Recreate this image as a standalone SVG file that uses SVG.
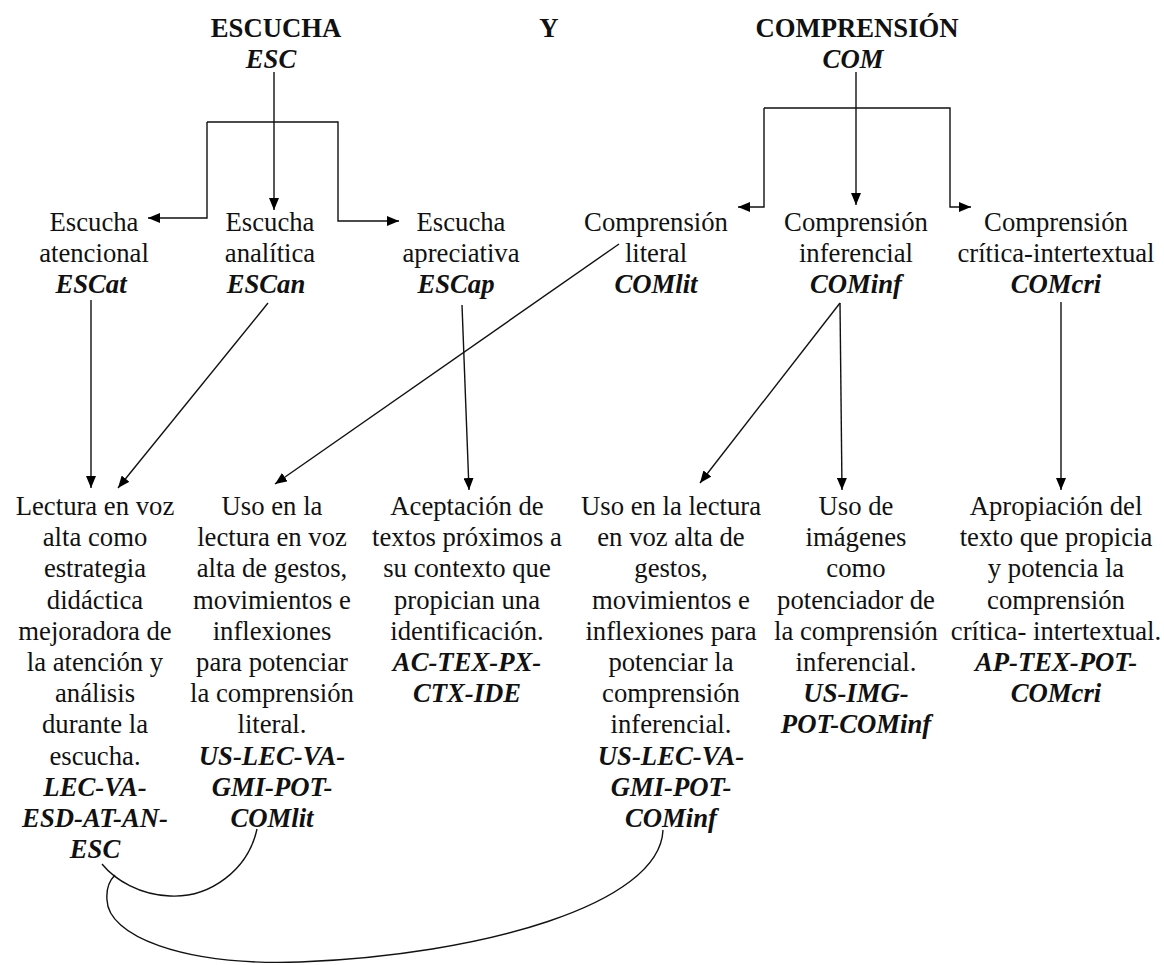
<svg xmlns="http://www.w3.org/2000/svg" width="1164" height="965" viewBox="0 0 1164 965">
<defs>
<marker id="arr" markerWidth="12" markerHeight="10" refX="12" refY="5" orient="auto" markerUnits="userSpaceOnUse">
<path d="M0,0 L12,5 L0,10 z" fill="#000"/>
</marker>
<style>
text{font-family:"Liberation Serif","Times New Roman",serif;font-size:26.7px;fill:#111;text-anchor:middle}
.b{font-weight:bold}
.bi{font-weight:bold;font-style:italic}
.c{fill:none;stroke:#111;stroke-width:1.4}
.a{marker-end:url(#arr)}
</style>
</defs>
<rect width="1164" height="965" fill="#fff"/>
<g id="connectors">
<path class="c a" d="M274 72 V210"/>
<path class="c a" d="M207 122 V218 H148"/>
<path class="c a" d="M207 122 H338 V221 H399"/>
<path class="c a" d="M856 72 V205"/>
<path class="c a" d="M764 108 V207 H738"/>
<path class="c a" d="M764 108 H950 V207 H971"/>
<path class="c a" d="M91 300 V488"/>
<path class="c a" d="M268 303 L118 488"/>
<path class="c a" d="M619 244 L275 484"/>
<path class="c a" d="M462 305 L469 490"/>
<path class="c a" d="M840 303 L700 483"/>
<path class="c a" d="M840 303 L842 490"/>
<path class="c a" d="M1061 302 V490"/>
<path class="c" d="M257 829 C248 870 210 898 170 896 C140 895 115 880 102 864"/>
<path class="c" d="M663 830 C660 905 480 955 300 962 C180 966 108 935 107 900 C106 888 110 880 115 875"/>
</g>
<g id="ESC">
<text class="b" x="276" y="37">ESCUCHA</text>
<text class="bi" x="271" y="68">ESC</text>
</g>
<g id="Y"><text class="b" x="549" y="37">Y</text></g>
<g id="COM">
<text class="b" x="857" y="37">COMPRENSIÓN</text>
<text class="bi" x="853" y="68">COM</text>
</g>
<g id="ESCat">
<text x="94" y="231">Escucha</text>
<text x="94" y="262">atencional</text>
<text class="bi" x="91" y="293">ESCat</text>
</g>
<g id="ESCan">
<text x="270" y="231">Escucha</text>
<text x="270" y="262">analítica</text>
<text class="bi" x="266" y="293">ESCan</text>
</g>
<g id="ESCap">
<text x="461" y="231">Escucha</text>
<text x="461" y="262">apreciativa</text>
<text class="bi" x="456" y="293">ESCap</text>
</g>
<g id="COMlit">
<text x="656" y="231">Comprensión</text>
<text x="656" y="262">literal</text>
<text class="bi" x="656" y="293">COMlit</text>
</g>
<g id="COMinf">
<text x="856" y="231">Comprensión</text>
<text x="856" y="262">inferencial</text>
<text class="bi" x="856" y="293">COMinf</text>
</g>
<g id="COMcri">
<text x="1056" y="231">Comprensión</text>
<text x="1056" y="262">crítica-intertextual</text>
<text class="bi" x="1056" y="293">COMcri</text>
</g>
<g id="LEC-VA-ESD-AT-AN-ESC">
<text x="95" y="515">Lectura en voz</text>
<text x="95" y="546.2">alta como</text>
<text x="95" y="577.4">estrategia</text>
<text x="95" y="608.6">didáctica</text>
<text x="95" y="639.8">mejoradora de</text>
<text x="95" y="671">la atención y</text>
<text x="95" y="702.2">análisis</text>
<text x="95" y="733.4">durante la</text>
<text x="95" y="764.6">escucha.</text>
<text class="bi" x="95" y="795.8">LEC-VA-</text>
<text class="bi" x="95" y="827">ESD-AT-AN-</text>
<text class="bi" x="95" y="858.2">ESC</text>
</g>
<g id="US-LEC-VA-GMI-POT-COMlit">
<text x="272" y="515">Uso en la</text>
<text x="272" y="546.2">lectura en voz</text>
<text x="272" y="577.4">alta de gestos,</text>
<text x="272" y="608.6">movimientos e</text>
<text x="272" y="639.8">inflexiones</text>
<text x="272" y="671">para potenciar</text>
<text x="272" y="702.2">la comprensión</text>
<text x="272" y="733.4">literal.</text>
<text class="bi" x="272" y="764.6">US-LEC-VA-</text>
<text class="bi" x="272" y="795.8">GMI-POT-</text>
<text class="bi" x="272" y="827">COMlit</text>
</g>
<g id="AC-TEX-PX-CTX-IDE">
<text x="467" y="515">Aceptación de</text>
<text x="467" y="546.2">textos próximos a</text>
<text x="467" y="577.4">su contexto que</text>
<text x="467" y="608.6">propician una</text>
<text x="467" y="639.8">identificación.</text>
<text class="bi" x="467" y="671">AC-TEX-PX-</text>
<text class="bi" x="467" y="702.2">CTX-IDE</text>
</g>
<g id="US-LEC-VA-GMI-POT-COMinf">
<text x="671" y="515">Uso en la lectura</text>
<text x="671" y="546.2">en voz alta de</text>
<text x="671" y="577.4">gestos,</text>
<text x="671" y="608.6">movimientos e</text>
<text x="671" y="639.8">inflexiones para</text>
<text x="671" y="671">potenciar la</text>
<text x="671" y="702.2">comprensión</text>
<text x="671" y="733.4">inferencial.</text>
<text class="bi" x="671" y="764.6">US-LEC-VA-</text>
<text class="bi" x="671" y="795.8">GMI-POT-</text>
<text class="bi" x="671" y="827">COMinf</text>
</g>
<g id="US-IMG-POT-COMinf">
<text x="856" y="515">Uso de</text>
<text x="856" y="546.2">imágenes</text>
<text x="856" y="577.4">como</text>
<text x="856" y="608.6">potenciador de</text>
<text x="856" y="639.8">la comprensión</text>
<text x="856" y="671">inferencial.</text>
<text class="bi" x="856" y="702.2">US-IMG-</text>
<text class="bi" x="856" y="733.4">POT-COMinf</text>
</g>
<g id="AP-TEX-POT-COMcri">
<text x="1056" y="515">Apropiación del</text>
<text x="1056" y="546.2">texto que propicia</text>
<text x="1056" y="577.4">y potencia la</text>
<text x="1056" y="608.6">comprensión</text>
<text x="1056" y="639.8">crítica- intertextual.</text>
<text class="bi" x="1056" y="671">AP-TEX-POT-</text>
<text class="bi" x="1056" y="702.2">COMcri</text>
</g>
</svg>
